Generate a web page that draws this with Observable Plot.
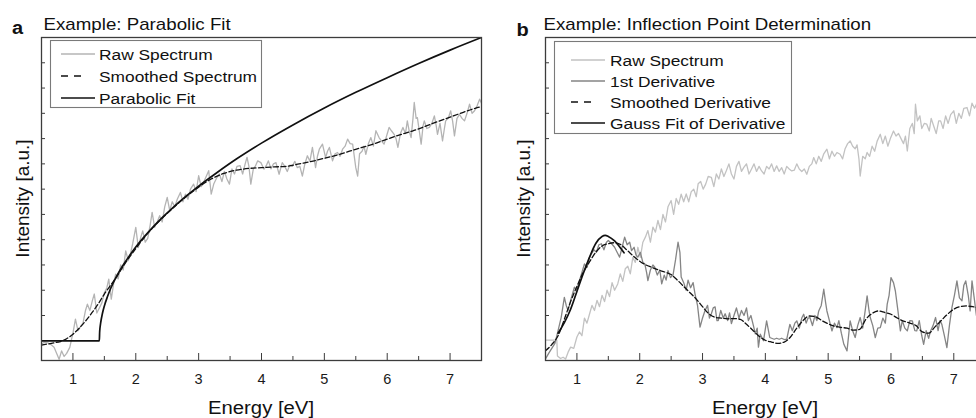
<!DOCTYPE html>
<html><head><meta charset="utf-8">
<script src="https://cdn.jsdelivr.net/npm/d3@7"></script>
<script src="https://cdn.jsdelivr.net/npm/@observablehq/plot@0.6"></script>
<style>
html,body{margin:0;padding:0;background:#fff;overflow:hidden;}
#fig{position:relative;width:976px;height:418px;overflow:hidden;background:#fff;}
#fig > svg, #fig > figure{position:absolute;top:0;margin:0;}
</style></head>
<body><div id="fig"></div>
<script>
// ---------- axis ticks ----------
const xMajor = [1, 2, 3, 4, 5, 6, 7];
const xMinor = [1.5, 2.5, 3.5, 4.5, 5.5, 6.5];
const yTicks = [1, 2, 3, 4, 5, 6, 7, 8, 9, 10, 11];

// ---------- text ----------
const panelLetters = ["a", "b"];
const panelTitles = ["Example: Parabolic Fit", "Example: Inflection Point Determination"];
const xLabel = "Energy [eV]";
const yLabel = "Intensity [a.u.]";
const legendA = ["Raw Spectrum", "Smoothed Spectrum", "Parabolic Fit"];
const legendB = ["Raw Spectrum", "1st Derivative", "Smoothed Derivative", "Gauss Fit of Derivative"];

// ---------- panel a data [energy eV, intensity a.u.] ----------
const rawA = [[0.50,-0.13],[0.55,-0.05],[0.60,-0.08],[0.65,-0.15],[0.70,-0.26],[0.75,-0.55],[0.78,-0.73],[0.82,-0.40],[0.86,-0.62],[0.90,-0.50],[0.95,-0.26],[1.00,0.30],[1.04,0.86],[1.08,0.40],[1.12,0.55],[1.16,0.70],[1.20,1.20],[1.23,1.45],[1.27,1.20],[1.31,1.60],[1.34,1.85],[1.38,1.10],[1.42,1.30],[1.46,1.50],[1.50,1.90],[1.54,2.10],[1.57,2.44],[1.61,1.65],[1.65,2.30],[1.68,2.64],[1.72,2.45],[1.76,3.00],[1.80,2.80],[1.84,3.56],[1.88,3.17],[1.92,3.50],[1.95,3.83],[2.00,4.49],[2.04,3.69],[2.08,4.10],[2.11,4.35],[2.15,3.90],[2.19,4.05],[2.23,4.60],[2.26,5.08],[2.30,4.49],[2.34,4.70],[2.38,4.95],[2.42,4.70],[2.46,5.30],[2.50,5.67],[2.54,5.15],[2.58,5.50],[2.62,5.30],[2.66,5.60],[2.71,5.87],[2.75,5.50],[2.79,5.80],[2.83,5.60],[2.87,6.00],[2.92,6.20],[2.96,5.90],[3.00,6.53],[3.04,6.10],[3.08,6.27],[3.12,6.50],[3.16,6.73],[3.20,5.80],[3.24,6.20],[3.29,6.46],[3.33,6.60],[3.37,6.30],[3.41,6.70],[3.45,6.40],[3.49,6.20],[3.53,6.80],[3.57,6.60],[3.61,6.90],[3.66,6.93],[3.70,6.60],[3.74,7.00],[3.77,7.26],[3.80,6.90],[3.83,6.20],[3.87,6.80],[3.90,6.90],[3.94,7.12],[3.99,7.05],[4.04,6.79],[4.08,6.95],[4.11,7.12],[4.15,6.80],[4.19,7.00],[4.23,7.05],[4.28,6.59],[4.33,7.05],[4.37,6.90],[4.41,6.70],[4.45,6.95],[4.49,6.90],[4.53,7.10],[4.57,6.85],[4.61,6.90],[4.65,6.52],[4.69,7.00],[4.73,7.32],[4.77,7.10],[4.81,7.65],[4.86,6.85],[4.89,7.30],[4.92,7.58],[4.97,7.78],[5.02,7.25],[5.05,7.50],[5.08,7.65],[5.13,7.12],[5.17,7.40],[5.21,7.45],[5.25,7.30],[5.29,7.58],[5.33,7.70],[5.37,7.98],[5.41,7.80],[5.45,7.78],[5.50,6.85],[5.53,6.52],[5.56,7.40],[5.60,7.50],[5.63,7.70],[5.66,7.38],[5.70,7.80],[5.74,8.04],[5.78,7.70],[5.82,8.31],[5.87,8.04],[5.91,7.90],[5.95,7.78],[5.99,8.10],[6.03,8.44],[6.07,8.30],[6.11,8.17],[6.14,8.00],[6.17,7.65],[6.21,8.20],[6.25,8.44],[6.29,8.20],[6.32,8.70],[6.35,8.30],[6.38,8.04],[6.41,8.80],[6.43,9.43],[6.46,8.80],[6.48,8.83],[6.51,8.30],[6.54,7.78],[6.57,8.50],[6.59,8.70],[6.63,8.40],[6.67,8.44],[6.71,8.60],[6.75,8.90],[6.78,8.50],[6.80,8.17],[6.84,8.60],[6.88,7.91],[6.91,8.40],[6.93,8.70],[6.97,8.80],[7.01,9.10],[7.04,8.70],[7.07,8.11],[7.11,8.80],[7.15,8.96],[7.19,8.80],[7.23,8.70],[7.27,9.00],[7.31,9.36],[7.35,9.00],[7.39,9.10],[7.43,9.30],[7.47,9.56],[7.50,9.40]];
const smoothA = [[0.5,-0.17],[0.7,-0.08],[0.8,-0.03],[0.9,0.08],[1.0,0.26],[1.1,0.5],[1.2,0.78],[1.3,1.1],[1.4,1.45],[1.5,1.85],[1.6,2.2],[1.7,2.55],[1.8,2.95],[2.0,3.65],[2.2,4.28],[2.4,4.8],[2.6,5.27],[2.8,5.7],[3.0,6.08],[3.2,6.4],[3.4,6.62],[3.6,6.75],[3.8,6.82],[4.0,6.85],[4.2,6.88],[4.4,6.9],[4.6,7.0],[4.8,7.1],[5.0,7.22],[5.2,7.35],[5.4,7.5],[5.6,7.65],[5.8,7.8],[6.0,7.98],[6.2,8.15],[6.4,8.3],[6.6,8.48],[6.8,8.67],[7.0,8.85],[7.2,9.03],[7.4,9.2],[7.5,9.27]];
const fitA = [[0.5,0],[1.42,0],[1.425,0.34],[1.43,0.49],[1.44,0.69],[1.47,1.09],[1.5,1.38],[1.55,1.75],[1.6,2.07],[1.7,2.58],[1.8,3.0],[1.9,3.37],[2.0,3.71],[2.2,4.3],[2.4,4.82],[2.6,5.29],[2.8,5.72],[3.0,6.12],[3.3,6.67],[3.6,7.19],[4.0,7.82],[4.5,8.54],[5.0,9.21],[5.5,9.83],[6.0,10.41],[6.5,10.97],[7.0,11.5],[7.5,12.0]];

// ---------- panel b data ----------
const rawB = [[0.50,0.03],[0.68,0.03],[0.69,-0.60],[0.74,-0.70],[0.78,-0.65],[0.82,-0.72],[0.86,-0.45],[0.90,-0.25],[0.95,-0.30],[1.00,0.15],[1.04,0.35],[1.08,0.20],[1.12,0.90],[1.16,0.70],[1.20,1.05],[1.24,1.40],[1.28,1.20],[1.32,1.60],[1.36,1.35],[1.40,1.80],[1.44,1.55],[1.48,2.00],[1.52,1.75],[1.56,2.30],[1.60,2.00],[1.65,2.25],[1.69,2.65],[1.73,2.35],[1.77,2.85],[1.81,2.95],[1.85,2.65],[1.89,3.30],[1.93,3.10],[1.97,3.70],[2.01,3.30],[2.05,3.90],[2.09,4.10],[2.13,4.36],[2.17,3.90],[2.21,4.50],[2.25,4.30],[2.29,4.76],[2.33,4.40],[2.37,5.00],[2.41,4.70],[2.45,5.30],[2.50,5.55],[2.54,5.00],[2.58,5.63],[2.62,5.40],[2.66,5.80],[2.70,5.50],[2.74,5.81],[2.78,5.50],[2.82,5.90],[2.86,6.00],[2.90,5.70],[2.93,6.21],[2.97,6.30],[3.01,6.00],[3.05,6.20],[3.09,6.50],[3.14,6.47],[3.18,6.10],[3.22,6.60],[3.26,6.40],[3.30,6.80],[3.34,6.50],[3.38,6.74],[3.42,7.00],[3.46,6.60],[3.50,6.40],[3.54,6.90],[3.58,7.10],[3.62,6.70],[3.66,6.87],[3.70,7.00],[3.74,6.60],[3.78,6.80],[3.82,7.00],[3.86,6.70],[3.90,6.90],[3.94,6.72],[3.98,6.60],[4.02,6.90],[4.06,6.80],[4.10,7.00],[4.14,6.70],[4.18,6.92],[4.22,6.70],[4.26,6.85],[4.30,6.60],[4.34,6.90],[4.38,6.80],[4.42,6.72],[4.46,6.75],[4.50,7.00],[4.54,6.80],[4.58,6.70],[4.62,6.80],[4.66,6.59],[4.70,6.90],[4.74,7.00],[4.77,7.25],[4.81,7.00],[4.85,7.30],[4.89,7.10],[4.93,7.40],[4.98,7.58],[5.02,7.20],[5.06,7.50],[5.10,7.30],[5.14,7.45],[5.19,7.38],[5.23,7.20],[5.27,7.60],[5.31,7.80],[5.35,7.91],[5.39,7.70],[5.43,7.60],[5.46,7.75],[5.49,7.20],[5.51,6.52],[5.55,7.30],[5.59,7.20],[5.62,7.45],[5.66,7.30],[5.70,7.70],[5.74,7.50],[5.78,7.90],[5.83,8.17],[5.87,7.80],[5.91,8.10],[5.95,7.70],[5.99,8.00],[6.04,8.30],[6.08,8.10],[6.12,8.20],[6.16,8.00],[6.20,7.80],[6.23,8.10],[6.26,7.51],[6.30,8.40],[6.34,8.60],[6.37,8.20],[6.39,9.36],[6.42,8.70],[6.46,8.90],[6.49,8.40],[6.53,8.60],[6.57,8.57],[6.61,8.30],[6.64,8.80],[6.68,8.50],[6.72,8.20],[6.76,8.70],[6.79,8.70],[6.83,8.40],[6.87,8.90],[6.91,8.60],[6.95,8.95],[7.00,9.10],[7.04,8.60],[7.08,9.00],[7.12,8.80],[7.16,9.20],[7.21,9.23],[7.25,8.90],[7.29,9.40],[7.33,9.20],[7.36,9.36],[7.40,9.60],[7.45,9.50],[7.50,9.80]];
const derivB = [[0.50,-0.72],[0.55,-0.50],[0.60,-0.30],[0.65,-0.10],[0.70,0.40],[0.75,0.93],[0.80,1.72],[0.83,1.40],[0.86,1.20],[0.90,1.60],[0.96,2.12],[1.00,2.00],[1.04,2.38],[1.08,2.70],[1.12,3.04],[1.16,2.90],[1.20,3.30],[1.23,3.44],[1.27,3.60],[1.31,3.50],[1.35,3.80],[1.39,3.84],[1.43,3.60],[1.47,3.90],[1.50,3.97],[1.55,3.85],[1.60,3.70],[1.64,3.50],[1.68,3.31],[1.72,3.70],[1.76,4.10],[1.80,3.80],[1.84,3.90],[1.87,3.57],[1.91,3.70],[1.94,3.40],[1.97,3.31],[2.01,3.50],[2.05,3.10],[2.08,3.05],[2.11,2.70],[2.13,2.38],[2.17,2.80],[2.21,3.00],[2.24,2.91],[2.28,2.60],[2.32,2.80],[2.35,2.25],[2.39,2.60],[2.42,2.40],[2.45,2.78],[2.49,2.50],[2.53,2.60],[2.57,3.20],[2.61,3.90],[2.64,3.50],[2.66,2.52],[2.70,2.30],[2.74,2.00],[2.77,2.40],[2.81,2.10],[2.85,2.30],[2.88,1.86],[2.92,1.40],[2.96,0.54],[3.00,0.90],[3.04,1.20],[3.08,1.40],[3.11,0.90],[3.14,1.07],[3.17,1.30],[3.20,1.34],[3.23,0.80],[3.25,0.80],[3.29,1.20],[3.33,0.90],[3.36,1.07],[3.40,0.80],[3.43,1.10],[3.46,0.68],[3.50,1.00],[3.54,1.30],[3.58,0.90],[3.62,1.20],[3.66,1.00],[3.70,1.30],[3.73,0.80],[3.77,1.00],[3.81,0.60],[3.84,0.27],[3.87,0.50],[3.89,-0.25],[3.92,0.26],[3.97,0.00],[4.02,0.79],[4.07,0.13],[4.10,0.10],[4.14,0.06],[4.18,0.10],[4.22,0.06],[4.26,0.10],[4.30,0.05],[4.34,0.06],[4.39,0.65],[4.43,0.40],[4.47,0.70],[4.50,0.79],[4.54,0.50],[4.58,0.90],[4.61,1.05],[4.65,0.70],[4.68,0.90],[4.71,0.92],[4.75,0.60],[4.79,1.00],[4.82,0.80],[4.85,1.18],[4.89,1.40],[4.93,2.04],[4.96,1.50],[4.98,1.18],[5.02,0.80],[5.06,0.39],[5.10,0.70],[5.14,0.52],[5.17,0.80],[5.21,0.30],[5.25,-0.14],[5.30,-0.40],[5.35,0.79],[5.39,0.40],[5.43,0.13],[5.47,0.60],[5.51,0.92],[5.55,0.50],[5.59,1.20],[5.62,1.78],[5.65,1.20],[5.67,0.92],[5.71,0.60],[5.75,0.13],[5.79,0.50],[5.83,0.52],[5.87,0.90],[5.91,0.70],[5.94,1.45],[5.97,1.80],[6.00,2.50],[6.04,2.30],[6.07,1.97],[6.11,1.20],[6.15,0.39],[6.18,0.80],[6.22,0.50],[6.26,0.39],[6.30,0.80],[6.34,0.79],[6.38,0.40],[6.41,0.39],[6.45,0.80],[6.49,0.20],[6.52,-0.14],[6.56,0.40],[6.60,0.10],[6.63,0.39],[6.67,0.60],[6.71,0.92],[6.75,0.40],[6.78,0.80],[6.81,0.65],[6.85,0.20],[6.89,-0.27],[6.93,0.60],[6.97,1.31],[7.01,1.80],[7.05,2.37],[7.09,1.70],[7.13,1.58],[7.16,2.20],[7.19,2.37],[7.23,1.80],[7.26,1.18],[7.29,2.37],[7.33,1.60],[7.36,1.00],[7.40,1.50],[7.45,1.20],[7.50,1.40]];
const smoothB = [[0.5,-0.39],[0.6,-0.15],[0.7,0.2],[0.8,0.85],[0.9,1.55],[1.0,2.15],[1.1,2.7],[1.2,3.12],[1.3,3.5],[1.4,3.75],[1.5,3.84],[1.6,3.88],[1.7,3.8],[1.8,3.58],[1.9,3.35],[2.0,3.15],[2.1,3.0],[2.2,2.9],[2.3,2.8],[2.4,2.72],[2.5,2.62],[2.6,2.4],[2.7,2.15],[2.8,1.9],[2.9,1.65],[3.0,1.35],[3.1,1.07],[3.2,0.93],[3.3,0.9],[3.4,0.87],[3.5,0.88],[3.6,0.85],[3.7,0.65],[3.8,0.42],[3.9,0.18],[4.0,0.02],[4.1,-0.05],[4.2,-0.1],[4.3,-0.05],[4.4,0.15],[4.5,0.5],[4.6,0.8],[4.7,0.98],[4.8,0.95],[4.9,0.8],[5.0,0.67],[5.1,0.58],[5.2,0.53],[5.3,0.5],[5.4,0.42],[5.5,0.45],[5.6,0.85],[5.7,1.08],[5.8,1.18],[5.9,1.12],[6.0,1.05],[6.1,0.9],[6.2,0.78],[6.3,0.7],[6.4,0.6],[6.5,0.35],[6.6,0.3],[6.7,0.55],[6.8,0.8],[6.9,1.05],[7.0,1.25],[7.1,1.35],[7.2,1.38],[7.3,1.35],[7.4,1.3],[7.5,1.25]];
const gaussB = [[0.7,0.3],[0.8,0.72],[0.9,1.25],[1.0,1.95],[1.1,2.65],[1.2,3.3],[1.3,3.85],[1.4,4.13],[1.45,4.17],[1.5,4.13],[1.6,3.95],[1.7,3.65],[1.75,3.48]];

// ---------- styling ----------
const FONT = '"Liberation Sans", Arial, Helvetica, sans-serif';
const AX = "#3c3c3c";
const DASH = "5,2.5";
const LEGDASH = "7,6,7,14,1.5,30";
const seriesA = [
  {data: rawA, stroke: "#b4b4b4", w: 1.3, curve: "linear"},
  {data: smoothA, stroke: "#111", w: 1.3, dash: DASH, curve: "monotone-x"},
  {data: fitA, stroke: "#111", w: 1.7, curve: "monotone-x"}
];
const seriesB = [
  {data: rawB, stroke: "#c2c2c2", w: 1.3, curve: "linear"},
  {data: derivB, stroke: "#858585", w: 1.3, curve: "linear"},
  {data: smoothB, stroke: "#111", w: 1.3, dash: DASH, curve: "monotone-x"},
  {data: gaussB, stroke: "#111", w: 1.7, curve: "monotone-x"}
];

const MT = 37, MB = 58, H = 418;
function makePanel({width, ml, mr, series}) {
  const plotW = width - ml - mr, plotH = H - MT - MB;
  return Plot.plot({
    width, height: H,
    marginLeft: ml, marginRight: mr, marginTop: MT, marginBottom: MB,
    x: {domain: [0.5, 7.5]},
    y: {domain: [-0.78, 12], axis: null},
    style: {fontFamily: FONT, fontSize: "14.5px", color: "#1a1a1a", background: "transparent", overflow: "visible"},
    marks: [
      ...series.map(s => Plot.line(s.data, {
        x: d => d[0], y: d => d[1], stroke: s.stroke, strokeWidth: s.w,
        strokeDasharray: s.dash, curve: s.curve, clip: true
      })),
      Plot.ruleX(xMajor, {x: d => d, insetTop: plotH - 7, stroke: AX, strokeWidth: 1}),
      Plot.ruleX(xMinor, {x: d => d, insetTop: plotH - 4, stroke: AX, strokeWidth: 1}),
      Plot.ruleY(yTicks, {y: d => d, insetRight: plotW - 4, stroke: AX, strokeWidth: 1}),
      Plot.axisX(xMajor, {anchor: "bottom", tickSize: 0, tickPadding: 13, label: null}),
      Plot.frame({stroke: AX, strokeWidth: 1.3})
    ]
  });
}

const fig = document.getElementById("fig");
const pa = makePanel({width: 490, ml: 41, mr: 9, series: seriesA});
pa.style.left = "0px";
fig.appendChild(pa);
const pb = makePanel({width: 500, ml: 55, mr: 5.3, series: seriesB});
pb.style.left = "490px";
fig.appendChild(pb);

// ---------- text overlay: titles, axis labels, legends ----------
const ov = d3.create("svg").attr("width", 976).attr("height", H)
  .style("position", "absolute").style("left", "0px").style("top", "0px")
  .style("font-family", FONT).attr("fill", "#111");

// text placed at (x,y) and widened horizontally by sx (the reference type is slightly wide)
function txt(x, y, size, sx, str, extra = {}) {
  const t = ov.append("text")
    .attr("transform", `translate(${x},${y}) scale(${sx},1)`)
    .attr("font-size", size).text(str);
  for (const k in extra) t.attr(k, extra[k]);
  return t;
}

const panels = [
  {letterX: 12, letterY: 33.5, titleX: 43.5, cx: 261, ylabX: 28.5},
  {letterX: 516.5, letterY: 35.5, titleX: 543.5, cx: 765, ylabX: 530}
];
panels.forEach((p, i) => {
  txt(p.letterX, p.letterY, 18.5, 1.08, panelLetters[i], {"font-weight": "bold"});
  txt(p.titleX, 29.5, 16, 1.17, panelTitles[i]);
  txt(p.cx, 414, 19, 1.07, xLabel, {"text-anchor": "middle"});
  ov.append("text").attr("transform", `translate(${p.ylabX},198.5) rotate(-90)`)
    .attr("font-size", 19).attr("text-anchor", "middle").text(yLabel);
});

function legend(box, rows, labels, styles) {
  ov.append("rect").attr("x", box.x).attr("y", box.y).attr("width", box.w).attr("height", box.h)
    .attr("fill", "#fff").attr("stroke", "#7a7a7a").attr("stroke-width", 1.1);
  labels.forEach((lab, i) => {
    const y = rows[i];
    const s = styles[i];
    ov.append("line").attr("x1", box.sx1).attr("x2", box.sx2).attr("y1", y).attr("y2", y)
      .attr("stroke", s.stroke).attr("stroke-width", s.w).attr("stroke-dasharray", s.dash ? LEGDASH : null);
    txt(box.tx, y, 15.5, 1.12, lab, {dy: "0.36em"});
  });
}
legend({x: 50.5, y: 40.5, w: 211, h: 67, sx1: 61, sx2: 95, tx: 99}, [54, 76, 98], legendA, seriesA);
legend({x: 554.5, y: 41.5, w: 237, h: 92, sx1: 571, sx2: 605, tx: 610}, [60, 81, 102, 123], legendB, seriesB);

fig.appendChild(ov.node());
</script>
</body></html>
